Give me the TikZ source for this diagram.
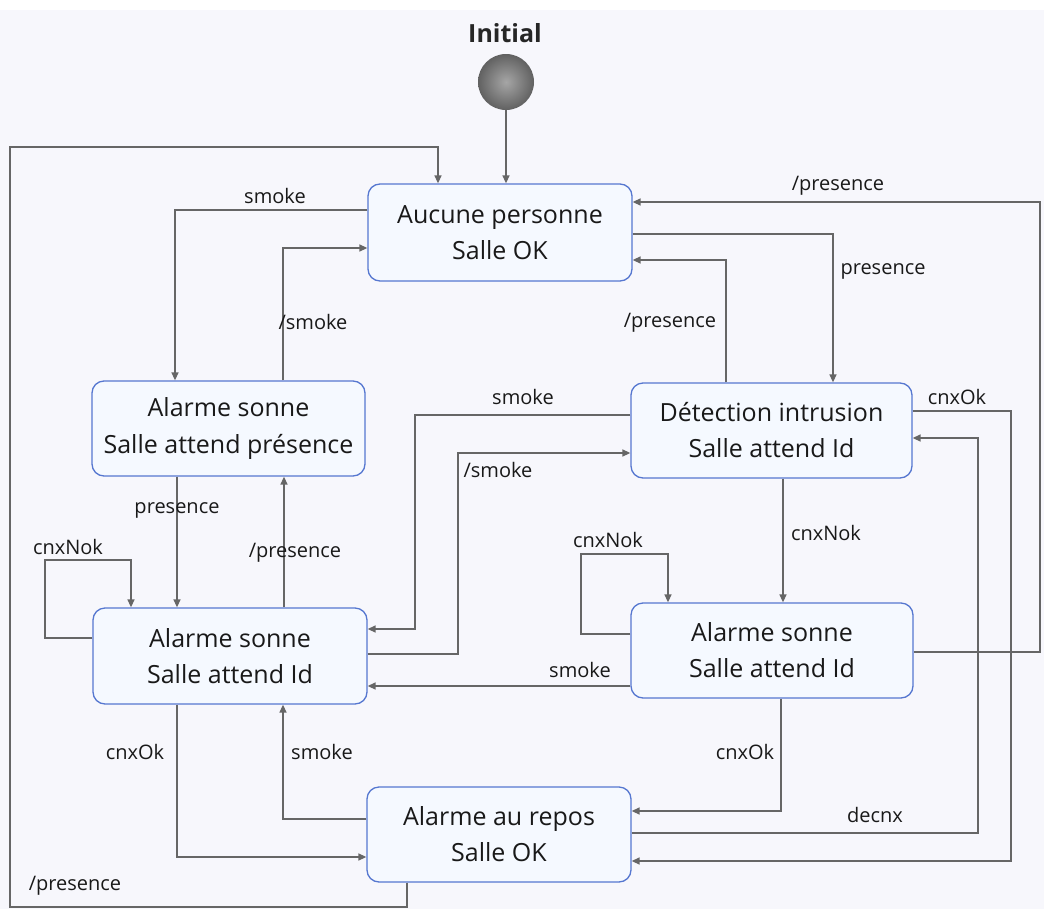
\documentclass[tikz,border=0pt]{standalone}
\usepackage{fontspec}
\setmainfont{Open Sans}
\usetikzlibrary{arrows.meta}
\definecolor{bgc}{HTML}{F7F7FC}
\definecolor{boxfill}{HTML}{F5F9FF}
\definecolor{boxline}{HTML}{5677D0}
\definecolor{linec}{HTML}{666666}
\tikzset{
  state/.style={draw=boxline, line width=1.3pt, fill=boxfill, rounded corners=12pt,
    align=center, font=\fontsize{25}{36}\selectfont, inner sep=0pt, text=black!90},
  tr/.style={draw=linec, line width=1.4pt, -{Triangle[length=8pt,width=7pt]}},
  lbl/.style={font=\fontsize{20}{24}\selectfont, inner sep=0pt, text=black!90}
}
\begin{document}
\begin{tikzpicture}[x=1pt,y=-1pt]
\useasboundingbox (0,0) rectangle (1044,910);
\fill[white] (0,0) rectangle (1044,910);
\fill[bgc] (0,10) rectangle (1044,909);

\node[font=\fontsize{25}{30}\selectfont\bfseries, text=black!85] (initlbl) at (505,33) {Initial};
\node[circle, minimum size=56pt, inner sep=0pt, shading=radial, inner color=black!35, outer color=black!62] (init) at (506,82) {};

\node[state, minimum width=264pt, minimum height=97pt] (a) at (500,232.5) {Aucune personne\\Salle OK};
\node[state, minimum width=273pt, minimum height=95pt] (b) at (228.5,428.5) {Alarme sonne\\Salle attend présence};
\node[state, minimum width=281pt, minimum height=95pt] (c) at (771.5,430.5) {Détection intrusion\\Salle attend Id};
\node[state, minimum width=274pt, minimum height=96pt] (d) at (230,656) {Alarme sonne\\Salle attend Id};
\node[state, minimum width=282pt, minimum height=95pt] (e) at (772,650.5) {Alarme sonne\\Salle attend Id};
\node[state, minimum width=264pt, minimum height=95pt] (f) at (499,834.5) {Alarme au repos\\Salle OK};

% initial
\draw[tr] (init) -- (a.north -| init);
% /presence f -> a (around left)
\draw[tr] (f.south -| 407,0) -- (407,907) -- (10,907) -- (10,147) -- (438,147) -- (a.north -| 438,0);
\node[lbl] (l1) at (75,886) {/presence};
% smoke a -> b
\draw[tr] (a.west |- 0,210) -| (b.north -| 175,0);
\node[lbl] (l2) at (275,196) {smoke};
% /smoke b -> a
\draw[tr] (b.north -| 283,0) |- (a.west |- 0,248);
\node[lbl] (l3) at (313,322) {/smoke};
% presence a -> c
\draw[tr] (a.east |- 0,234) -| (c.north -| 833,0);
\node[lbl] (l4) at (883,271) {presence};
% /presence c -> a
\draw[tr] (c.north -| 726,0) |- (a.east |- 0,260);
\node[lbl] (l5) at (670,323) {/presence};
% /presence e -> a
\draw[tr] (e.east |- 0,652) -- (1040,652) |- (a.east |- 0,202);
\node[lbl] (l6) at (838,186) {/presence};
% smoke c -> d
\draw[tr] (c.west |- 0,415) -| (415,629) -- (d.east |- 0,629);
\node[lbl] (l7) at (523,397) {smoke};
% /smoke d -> c
\draw[tr] (d.east |- 0,654) -| (458,453) -- (c.west |- 0,453);
\node[lbl] (l8) at (498,470) {/smoke};
% cnxOk c -> f
\draw[tr] (c.east |- 0,411) -| (1011,861) -- (f.east |- 0,861);
\node[lbl] (l9) at (957,397) {cnxOk};
% decnx f -> c
\draw[tr] (f.east |- 0,833) -| (978,438) -- (c.east |- 0,438);
\node[lbl] (l10) at (875,815) {decnx};
% presence b -> d
\draw[tr] (b.south -| 177,0) -- (d.north -| 177,0);
\node[lbl] (l11) at (177,510) {presence};
% /presence d -> b
\draw[tr] (d.north -| 284,0) -- (b.south -| 284,0);
\node[lbl] (l12) at (295,553) {/presence};
% cnxNok loop d
\draw[tr] (d.west |- 0,638) -- (45,638) |- (131,560) -- (d.north -| 131,0);
\node[lbl] (l13) at (68,547) {cnxNok};
% cnxNok c -> e
\draw[tr] (c.south -| 783,0) -- (e.north -| 783,0);
\node[lbl] (l14) at (826,533) {cnxNok};
% cnxNok loop e
\draw[tr] (e.west |- 0,634) -- (581,634) |- (668,554) -- (e.north -| 668,0);
\node[lbl] (l15) at (608,540) {cnxNok};
% smoke e -> d
\draw[tr] (e.west |- 0,686) -- (d.east |- 0,686);
\node[lbl] (l16) at (580,670) {smoke};
% cnxOk d -> f
\draw[tr] (d.south -| 177,0) |- (f.west |- 0,857);
\node[lbl] (l17) at (135,752) {cnxOk};
% smoke f -> d
\draw[tr] (f.west |- 0,819) -| (d.south -| 283,0);
\node[lbl] (l18) at (322,752) {smoke};
% cnxOk e -> f
\draw[tr] (e.south -| 781,0) |- (f.east |- 0,811);
\node[lbl] (l19) at (745,752) {cnxOk};
\end{tikzpicture}
\end{document}
